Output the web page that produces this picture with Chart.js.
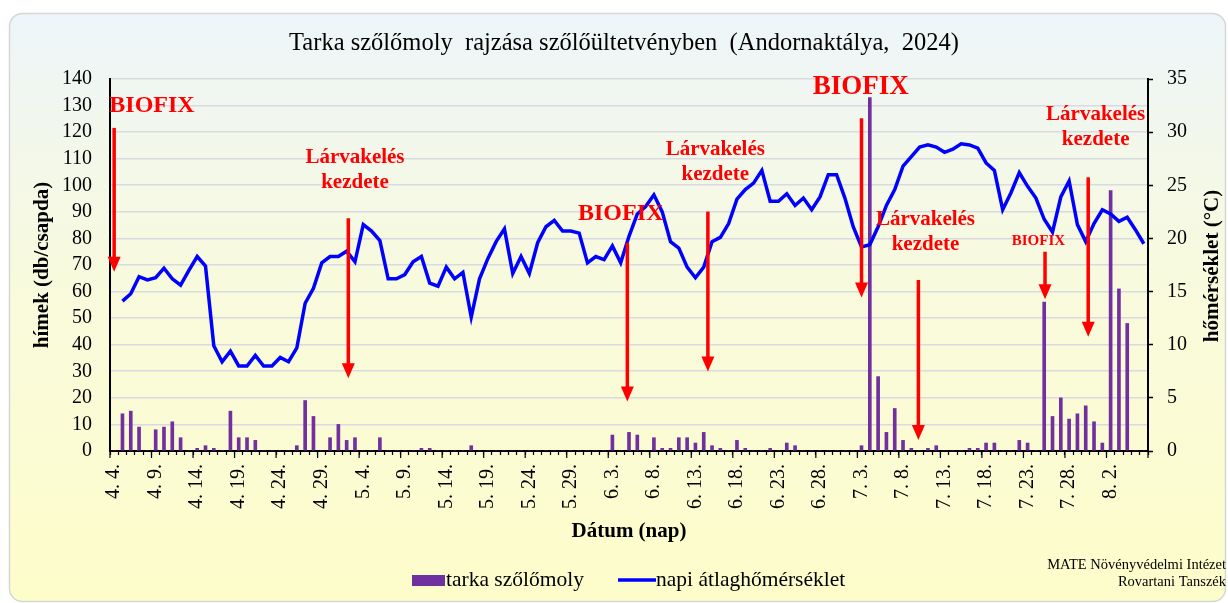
<!DOCTYPE html>
<html><head><meta charset="utf-8">
<script src="https://cdn.jsdelivr.net/npm/chart.js@4.4.1/dist/chart.umd.min.js"></script>
<style>html,body{margin:0;padding:0;background:#fff}#wrap{width:1228px;height:603px;position:relative}</style>
</head><body><div id="wrap"><canvas id="c" width="1228" height="603"></canvas></div>
<script>
const dates = [
"4. 4.","4. 5.","4. 6.","4. 7.","4. 8.","4. 9.","4. 10.","4. 11.","4. 12.","4. 13.","4. 14.","4. 15.","4. 16.","4. 17.","4. 18.","4. 19.","4. 20.","4. 21.","4. 22.","4. 23.","4. 24.","4. 25.","4. 26.","4. 27.","4. 28.","4. 29.","4. 30.",
"5. 1.","5. 2.","5. 3.","5. 4.","5. 5.","5. 6.","5. 7.","5. 8.","5. 9.","5. 10.","5. 11.","5. 12.","5. 13.","5. 14.","5. 15.","5. 16.","5. 17.","5. 18.","5. 19.","5. 20.","5. 21.","5. 22.","5. 23.","5. 24.","5. 25.","5. 26.","5. 27.","5. 28.","5. 29.","5. 30.","5. 31.",
"6. 1.","6. 2.","6. 3.","6. 4.","6. 5.","6. 6.","6. 7.","6. 8.","6. 9.","6. 10.","6. 11.","6. 12.","6. 13.","6. 14.","6. 15.","6. 16.","6. 17.","6. 18.","6. 19.","6. 20.","6. 21.","6. 22.","6. 23.","6. 24.","6. 25.","6. 26.","6. 27.","6. 28.","6. 29.","6. 30.",
"7. 1.","7. 2.","7. 3.","7. 4.","7. 5.","7. 6.","7. 7.","7. 8.","7. 9.","7. 10.","7. 11.","7. 12.","7. 13.","7. 14.","7. 15.","7. 16.","7. 17.","7. 18.","7. 19.","7. 20.","7. 21.","7. 22.","7. 23.","7. 24.","7. 25.","7. 26.","7. 27.","7. 28.","7. 29.","7. 30.","7. 31.",
"8. 1.","8. 2.","8. 3.","8. 4.","8. 5.","8. 6."
];
const mothCounts = [
0,14,15,9,0,8,9,11,5,0,1,2,1,0,15,5,5,4,0,0,0,0,2,19,13,0,5,10,4,5,
0,0,5,0,0,0,0,1,1,0,0,0,0,2,0,0,0,0,0,0,0,0,0,0,0,0,0,0,0,0,
6,0,7,6,0,5,1,1,5,5,3,7,2,1,0,4,1,0,0,1,0,3,2,0,0,0,0,0,0,0,
2,133,28,7,16,4,1,0,1,2,0,0,0,1,1,3,3,0,0,4,3,0,56,13,20,12,14,17,11,3,
98,61,48,0,0
];
const temperatures = [
null,14.1,14.8,16.4,16.1,16.3,17.2,16.2,15.6,17.0,18.3,17.4,9.9,8.4,9.4,8.0,8.0,9.0,8.0,8.0,
8.8,8.4,9.7,13.9,15.3,17.7,18.3,18.3,18.8,17.8,21.3,20.7,19.8,16.2,16.2,16.6,17.8,18.3,15.8,15.5,
17.3,16.2,16.8,12.6,16.2,18.1,19.7,20.9,16.7,18.3,16.7,19.6,21.1,21.7,20.7,20.7,20.5,17.7,18.3,18.0,
19.3,17.7,20.2,22.3,23.0,24.1,22.5,19.7,19.1,17.3,16.3,17.3,19.7,20.1,21.4,23.7,24.6,25.2,26.4,23.5,
23.5,24.2,23.1,23.8,22.7,23.9,26.0,26.0,23.8,21.1,19.2,19.4,21.1,23.1,24.6,26.8,27.7,28.6,28.8,28.6,
28.1,28.4,28.9,28.8,28.5,27.1,26.4,22.7,24.3,26.2,24.9,23.8,21.8,20.6,23.9,25.4,21.3,19.7,21.4,22.7,
22.3,21.6,22.0,20.8,19.5
];
const seriesNames = ["tarka szőlőmoly","napi átlaghőmérséklet"];
const titleText = "Tarka szőlőmoly  rajzása szőlőültetvényben  (Andornaktálya,  2024)";
const leftAxisTitle = "hímek (db/csapda)";
const rightAxisTitle = "hőmérséklet (°C)";
const xAxisTitle = "Dátum (nap)";
const sourceLines = ["MATE Növényvédelmi Intézet","Rovartani Tanszék"];

// annotations (x as category index, y in left-axis units)
const arrowIdx = [0, 28.2, 61.8, 71.5, 90.0, 96.85, 112.1, 117.3];
const arrowTop = [121.6, 87.6, 78.4, 90.1, 125.2, 64.4, 75.0, 103.0];
const arrowTip = [67.5, 27.4, 18.6, 29.9, 57.8, 4.1, 57.1, 43.0];
const noteTexts = [["BIOFIX"],["Lárvakelés","kezdete"],["BIOFIX"],["Lárvakelés","kezdete"],["BIOFIX"],["Lárvakelés","kezdete"],["BIOFIX"],["Lárvakelés","kezdete"]];
const noteIdx = [4.56, 29.0, 61.0, 72.4, 89.9, 97.7, 111.3, 118.2];
const noteVal = [129.8, 110.6, 89.2, 113.3, 137.1, 87.2, 79.1, 126.5];
const noteSize = [24, 21, 24, 21, 27, 21, 15, 21];

const SERIF = "'Liberation Serif','Times New Roman',serif";
const RED = '#ff0000', PURPLE = '#7030a0', BLUE = '#0000ff';

const decor = {
  id: 'decor',
  beforeDraw(chart) {
    const ctx = chart.ctx;
    ctx.save();
    const g = ctx.createLinearGradient(0, 13, 0, 601);
    g.addColorStop(0, '#edf5f9');
    g.addColorStop(0.45, '#f8fadd');
    g.addColorStop(1, '#fdfdca');
    ctx.beginPath();
    ctx.roundRect(9.5, 13.5, 1216, 588, 13);
    ctx.fillStyle = g; ctx.fill();
    ctx.strokeStyle = '#d6d6d6'; ctx.lineWidth = 1.5; ctx.stroke();
    ctx.restore();
  },
  afterDraw(chart) {
    const ctx = chart.ctx, xs = chart.scales.x, ys = chart.scales.y;
    ctx.save();
    // longer tick marks at every 5th category boundary
    ctx.strokeStyle = '#000'; ctx.lineWidth = 1.2;
    const base = ys.getPixelForValue(0);
    for (let i = 0; i <= dates.length; i += 5) {
      const x = xs.getPixelForValue(i - 0.5);
      ctx.beginPath(); ctx.moveTo(x, base); ctx.lineTo(x, base + 7); ctx.stroke();
    }
    // title
    ctx.fillStyle = '#000';
    ctx.font = '24.5px ' + SERIF;
    ctx.textAlign = 'center'; ctx.textBaseline = 'middle';
    ctx.fillText(titleText, 624, 44);
    // right axis title
    ctx.save();
    ctx.translate(1213, 266); ctx.rotate(-Math.PI/2);
    ctx.font = 'bold 21px ' + SERIF;
    ctx.fillText(rightAxisTitle, 0, 0);
    ctx.restore();
    // legend
    ctx.font = '21.5px ' + SERIF;
    ctx.textAlign = 'left';
    ctx.fillStyle = PURPLE; ctx.fillRect(412, 575, 33, 11);
    ctx.fillStyle = '#000'; ctx.fillText(seriesNames[0], 446, 580);
    ctx.strokeStyle = BLUE; ctx.lineWidth = 3.5;
    ctx.beginPath(); ctx.moveTo(618, 580); ctx.lineTo(656, 580); ctx.stroke();
    ctx.fillText(seriesNames[1], 656, 580);
    // source
    ctx.font = '14.5px ' + SERIF; ctx.textAlign = 'right';
    ctx.fillText(sourceLines[0], 1226, 565);
    ctx.fillText(sourceLines[1], 1226, 582);
    // annotations
    ctx.fillStyle = RED; ctx.strokeStyle = RED;
    for (let i = 0; i < arrowIdx.length; i++) {
      const x = xs.getPixelForValue(arrowIdx[i]);
      const y0 = ys.getPixelForValue(arrowTop[i]);
      const y1 = ys.getPixelForValue(arrowTip[i]);
      const head = 15, hw = 6.5;
      ctx.lineWidth = 3.5;
      ctx.beginPath(); ctx.moveTo(x, y0); ctx.lineTo(x, y1 - head + 1); ctx.stroke();
      ctx.beginPath(); ctx.moveTo(x - hw, y1 - head); ctx.lineTo(x + hw, y1 - head); ctx.lineTo(x, y1); ctx.closePath(); ctx.fill();
    }
    ctx.textAlign = 'center'; ctx.textBaseline = 'middle';
    for (let i = 0; i < noteTexts.length; i++) {
      const x = xs.getPixelForValue(noteIdx[i]);
      const y = ys.getPixelForValue(noteVal[i]);
      ctx.font = 'bold ' + noteSize[i] + 'px ' + SERIF;
      noteTexts[i].forEach((t, k) => ctx.fillText(t, x, y + k * 25));
    }
    ctx.restore();
  }
};

new Chart(document.getElementById('c'), {
  type: 'bar',
  data: {
    labels: dates,
    datasets: [
      { type: 'line', label: seriesNames[1], data: temperatures, yAxisID: 'y1', borderColor: BLUE, borderWidth: 3.5,
        pointRadius: 0, tension: 0, fill: false, order: 0, spanGaps: false },
      { type: 'bar', label: seriesNames[0], data: mothCounts, yAxisID: 'y', backgroundColor: PURPLE,
        barThickness: 3, order: 1 }
    ]
  },
  options: {
    responsive: false, animation: false, events: [],
    layout: { padding: { top: 79, left: 0, right: 0, bottom: 0 } },
    plugins: { legend: { display: false }, title: { display: false }, tooltip: { enabled: false } },
    scales: {
      x: {
        type: 'category', offset: true,
        grid: { display: true, drawOnChartArea: false, offset: true, tickLength: 4, tickColor: '#000', tickWidth: 1.2 },
        border: { color: '#000', width: 2 },
        ticks: { autoSkip: false, maxRotation: 90, minRotation: 90, padding: 9, color: '#000',
          font: { family: SERIF, size: 20 },
          callback: (v, i) => (i % 5 === 0 ? dates[i] : '') },
        title: { display: true, text: xAxisTitle, color: '#000', font: { family: SERIF, size: 21, weight: 'bold' },
          padding: { top: 0, bottom: 59 } },
        afterFit: s => { s.height = 152; }
      },
      y: {
        position: 'left', min: 0, max: 140,
        grid: { color: '#d9d9e2', lineWidth: 1.6, drawTicks: false },
        border: { color: '#000', width: 2 },
        ticks: { stepSize: 10, autoSkip: false, padding: 18, color: '#000', font: { family: SERIF, size: 20 } },
        title: { display: true, text: leftAxisTitle, color: '#000', font: { family: SERIF, size: 21, weight: 'bold' },
          padding: { top: 30, bottom: 0 } },
        afterFit: s => { s.width = 110; }
      },
      y1: {
        position: 'right', min: 0, max: 35,
        grid: { drawOnChartArea: false, tickLength: 5, tickColor: '#000', tickWidth: 1.5 },
        border: { color: '#000', width: 2 },
        ticks: { stepSize: 5, autoSkip: false, padding: 14, color: '#000', font: { family: SERIF, size: 20 } },
        afterFit: s => { s.width = 80; }
      }
    }
  },
  plugins: [decor]
});
</script>
</body></html>
